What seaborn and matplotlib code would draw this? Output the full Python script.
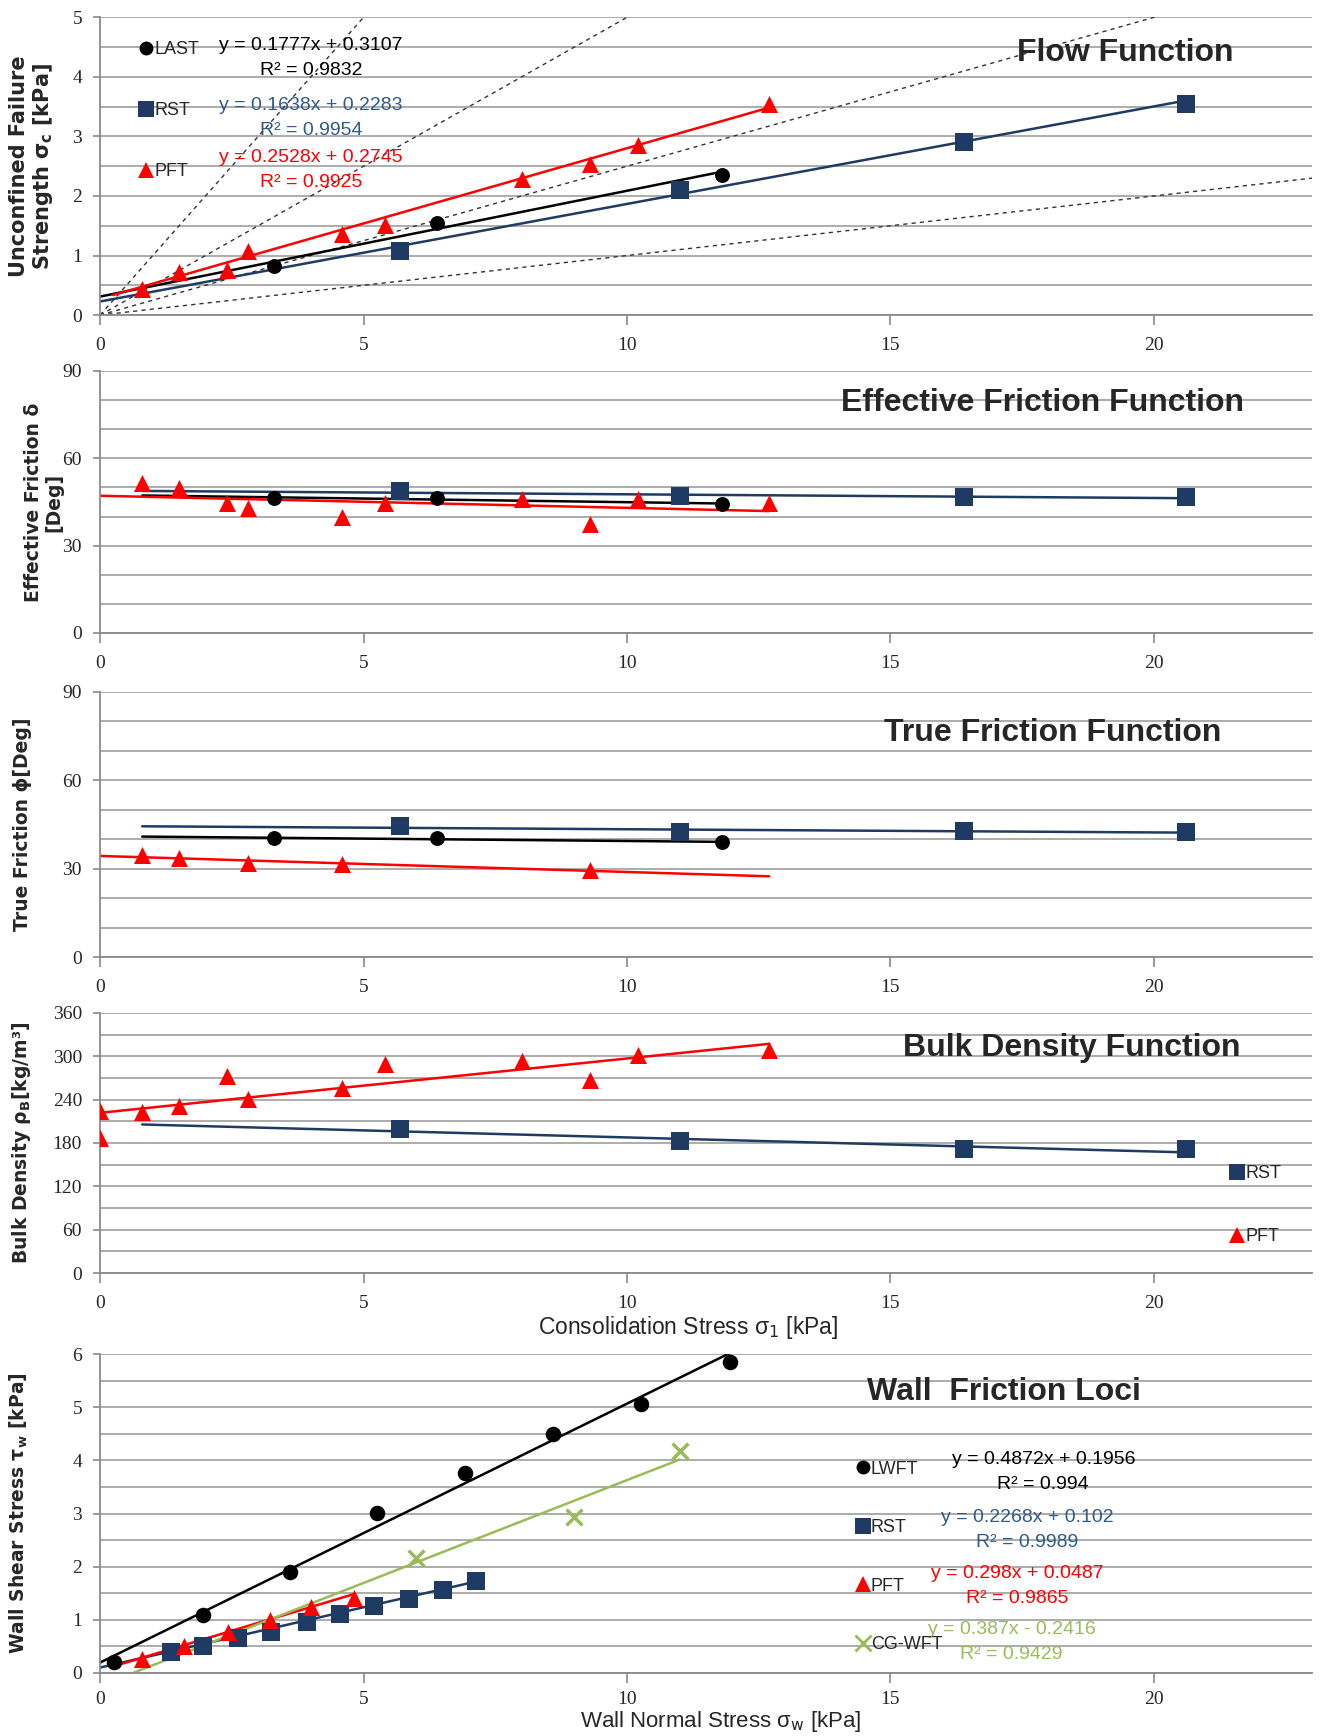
#!/usr/bin/env python3

import numpy as np
import matplotlib
matplotlib.use('Agg')
import matplotlib.pyplot as plt
from matplotlib.lines import Line2D
from matplotlib.ticker import MultipleLocator
import seaborn as sns

# consolidation stress sigma_1 [kPa] of each tester
last_x = [3.3, 6.4, 11.8]
rst_x = [5.7, 11.0, 16.4, 20.6]
pft_x = [0.8, 1.5, 2.4, 2.8, 4.6, 5.4, 8.0, 9.3, 10.2, 12.7]

# flow function, unconfined failure strength [kPa]
ff_last = [0.83, 1.55, 2.35]
ff_rst = [1.07, 2.10, 2.90, 3.55]
ff_pft = [0.43, 0.73, 0.75, 1.08, 1.37, 1.52, 2.28, 2.53, 2.86, 3.55]
ff_slope = [0.1777, 0.1638, 0.2528]
ff_icept = [0.3107, 0.2283, 0.2745]
ff_r2 = [0.9832, 0.9954, 0.9925]
ffc_values = [1, 2, 4, 10]

# effective friction [deg]
ef_last = [46.3, 46.3, 44.3]
ef_rst = [48.6, 46.9, 46.7, 46.6]
ef_pft = [51.5, 49.8, 44.6, 42.9, 40.0, 44.6, 46.0, 37.4, 46.0, 44.6]

# true friction [deg]
tf_last = [40.3, 40.3, 39.0]
tf_rst = [44.5, 42.3, 42.7, 42.6]
tf_pft_x = [0.8, 1.5, 2.8, 4.6, 9.3]
tf_pft = [34.5, 33.8, 31.9, 31.5, 29.6]

# bulk density [kg/m3]
bd_rst = [199, 183, 171, 171]
bd_pft_x = [0.0, 0.0, 0.8, 1.5, 2.4, 2.8, 4.6, 5.4, 8.0, 9.3, 10.2, 12.7]
bd_pft = [224, 187, 223, 231, 273, 241, 256, 289, 293, 267, 302, 309]

# trendline extent along sigma_1 (LAST, RST, PFT)
ff_span = [(0.0, 11.8), (0.0, 20.6), (0.25, 12.7)]
trend_span = [(0.8, 11.8), (0.8, 20.6), (0.0, 12.7)]

# wall friction loci
lw_x = [0.27, 1.95, 3.6, 5.26, 6.92, 8.6, 10.27, 11.95]
lw_y = [0.21, 1.10, 1.90, 3.01, 3.76, 4.50, 5.06, 5.86]
wrst_x = [1.35, 1.95, 2.62, 3.25, 3.92, 4.56, 5.2, 5.87, 6.5, 7.14]
wrst_y = [0.39, 0.50, 0.65, 0.78, 0.96, 1.11, 1.26, 1.40, 1.57, 1.73]
wpft_x = [0.8, 1.6, 2.43, 3.22, 4.01, 4.82]
wpft_y = [0.26, 0.50, 0.77, 1.00, 1.25, 1.41]
cg_x = [6.0, 9.0, 11.0]
cg_y = [2.16, 2.94, 4.17]
wf_names = ['LWFT', 'RST', 'PFT', 'CG-WFT']
wf_slope = [0.4872, 0.2268, 0.298, 0.387]
wf_icept = [0.1956, 0.102, 0.0487, -0.2416]
wf_r2 = [0.994, 0.9989, 0.9865, 0.9429]
wf_span = [(0.0, 11.95), (0.0, 7.14), (0.27, 4.82), (0.62, 11.0)]

BLACK = 'black'
NAVY = '#1F3B63'
RED = '#FF0000'
GREEN = '#9BBB59'
EQ_BLUE = '#2F5A8A'
EQ_GREEN = '#9BBB59'
NARROW = ['Liberation Sans', 'DejaVu Sans']
SERIF = 'Liberation Serif'

sns.set_theme(style='whitegrid')
plt.rcParams['font.family'] = ['DejaVu Sans']

fig = plt.figure(figsize=(13.27, 17.36), dpi=100)
left, width = 0.0754, 0.9133
axes = [fig.add_axes([left, 0.8185, width, 0.1715]),
        fig.add_axes([left, 0.6354, width, 0.1509]),
        fig.add_axes([left, 0.4487, width, 0.1527]),
        fig.add_axes([left, 0.2667, width, 0.1498]),
        fig.add_axes([left, 0.0363, width, 0.1837])]


def style_axis(ax, top, major, minor, ylabel, label_x, label_size=13.5, xpad=9):
    ax.set_facecolor('white')
    ax.set_xlim(0, 23)
    ax.set_ylim(0, top)
    ax.xaxis.set_major_locator(MultipleLocator(5))
    ax.yaxis.set_major_locator(MultipleLocator(major))
    ax.yaxis.set_minor_locator(MultipleLocator(minor))
    ax.grid(False, axis='x', which='both')
    ax.grid(True, axis='y', which='both', color='#a6a6a6', lw=1.3)
    for side in ['top', 'right']:
        ax.spines[side].set_visible(False)
    for side in ['left', 'bottom']:
        ax.spines[side].set_color('#8a8a8a')
        ax.spines[side].set_linewidth(1.3)
    ax.tick_params(axis='x', which='major', bottom=True, length=7, width=1.2,
                   color='#8a8a8a', pad=xpad, labelsize=14, labelfontfamily=SERIF)
    ax.tick_params(axis='y', which='major', left=True, length=5, width=1.2,
                   color='#8a8a8a', pad=8, labelsize=14, labelfontfamily=SERIF)
    ax.tick_params(axis='y', which='minor', left=False)
    ax.set_ylabel(ylabel, fontsize=label_size, fontweight='bold', linespacing=1.1)
    ax.yaxis.set_label_coords(label_x, 0.5)
    ax.set_xlabel('')


def trend(ax, xs, ys, span, color, coef=None):
    if coef is None:
        coef = np.polyfit(xs, ys, 1)
    xx = np.array(span)
    sns.lineplot(x=xx, y=coef[0] * xx + coef[1], ax=ax, color=color, lw=1.8)


def points(ax, xs, ys, marker, color, s):
    sns.scatterplot(x=xs, y=ys, ax=ax, marker=marker, color=color, s=s,
                    edgecolor=color, linewidth=0, zorder=5)


def marker_legend(ax, names, markers, colors, anchor, spacing):
    handles = [Line2D([], [], ls='none', marker=m, color=c,
                      markersize=10 if m == 'o' else 11,
                      markeredgewidth=2 if m == 'x' else 0)
               for m, c in zip(markers, colors)]
    leg = ax.legend(handles, names, loc='upper left', bbox_to_anchor=anchor,
                    frameon=False, handlelength=0.7, handletextpad=0.1,
                    labelspacing=spacing, borderpad=0, borderaxespad=0,
                    prop={'family': NARROW, 'size': 13})
    return leg


def title(ax, text, x, y):
    ax.text(x, y, text, transform=ax.transAxes, ha='center', va='center',
            fontsize=23, fontweight='bold', family=NARROW)


def equation(ax, x, y, dy, a, b, r2, color):
    sign = '+' if b >= 0 else '-'
    ax.text(x, y, f'y = {a:g}x {sign} {abs(b):g}', ha='center', va='center',
            color=color, fontsize=14, family=NARROW)
    ax.text(x, y - dy, f'R² = {r2:g}', ha='center', va='center', color=color,
            fontsize=14, family=NARROW)


# ---- Flow function
ax = axes[0]
style_axis(ax, 5, 1, 0.5, 'Unconfined Failure\nStrength σ$_\\mathbf{c}$ [kPa]',
           -0.037, 15)
xx = np.array([0, 23])
for ffc in ffc_values:
    sns.lineplot(x=xx, y=xx / ffc, ax=ax, color='#333333', lw=1.0,
                 linestyle=(0, (3, 3)))
for i, (xs, ys, mk, col, s) in enumerate([(last_x, ff_last, 'o', BLACK, 115),
                                          (rst_x, ff_rst, 's', NAVY, 150),
                                          (pft_x, ff_pft, '^', RED, 150)]):
    trend(ax, xs, ys, ff_span[i], col, (ff_slope[i], ff_icept[i]))
    points(ax, xs, ys, mk, col, s)
marker_legend(ax, ['LAST', 'RST', 'PFT'], ['o', 's', '^'], [BLACK, NAVY, RED],
              (0.033, 0.921), 2.45)
for i, (yy, col) in enumerate(zip([4.52, 3.52, 2.65], [BLACK, EQ_BLUE, RED])):
    equation(ax, 4.0, yy, 0.42, ff_slope[i], ff_icept[i], ff_r2[i], col)
title(ax, 'Flow Function', 0.846, 0.879)
ax.set_ylim(0, 5)

# ---- Effective friction
ax = axes[1]
style_axis(ax, 90, 30, 10, 'Effective Friction δ\n[Deg]', -0.030)
for i, (xs, ys, mk, col, s) in enumerate([(last_x, ef_last, 'o', BLACK, 115),
                                          (rst_x, ef_rst, 's', NAVY, 150),
                                          (pft_x, ef_pft, '^', RED, 150)]):
    trend(ax, xs, ys, trend_span[i], col)
    points(ax, xs, ys, mk, col, s)
title(ax, 'Effective Friction Function', 0.778, 0.878)
ax.set_ylim(0, 90)

# ---- True friction
ax = axes[2]
style_axis(ax, 90, 30, 10, 'True Friction ϕ[Deg]', -0.056)
for i, (xs, ys, mk, col, s) in enumerate([(last_x, tf_last, 'o', BLACK, 115),
                                          (rst_x, tf_rst, 's', NAVY, 150),
                                          (tf_pft_x, tf_pft, '^', RED, 150)]):
    trend(ax, xs, ys, trend_span[i], col)
    points(ax, xs, ys, mk, col, s)
title(ax, 'True Friction Function', 0.786, 0.845)
ax.set_ylim(0, 90)

# ---- Bulk density
ax = axes[3]
style_axis(ax, 360, 60, 30, 'Bulk Density ρ$_\\mathbf{B}$[kg/m³]', -0.055)
for i, (xs, ys, mk, col, s) in [(1, (rst_x, bd_rst, 's', NAVY, 150)),
                                (2, (bd_pft_x, bd_pft, '^', RED, 150))]:
    trend(ax, xs, ys, trend_span[i], col)
    points(ax, xs, ys, mk, col, s)
marker_legend(ax, ['RST', 'PFT'], ['s', '^'], [NAVY, RED], (0.933, 0.415), 2.55)
title(ax, 'Bulk Density Function', 0.802, 0.865)
ax.set_ylim(0, 360)
ax.set_xlabel('Consolidation Stress σ$_1$ [kPa]', fontsize=16.5, family=NARROW,
              labelpad=1)
ax.xaxis.label.set_x(0.485)

# ---- Wall friction loci
ax = axes[4]
style_axis(ax, 6, 1, 0.5, 'Wall Shear Stress τ$_\\mathbf{w}$ [kPa]', -0.058,
           xpad=6)
wf_sets = [(lw_x, lw_y, 'o', BLACK, 125), (wrst_x, wrst_y, 's', NAVY, 150),
           (wpft_x, wpft_y, '^', RED, 150), (cg_x, cg_y, 'x', GREEN, 130)]
for i, (xs, ys, mk, col, s) in enumerate(wf_sets):
    trend(ax, xs, ys, wf_span[i], col, (wf_slope[i], wf_icept[i]))
    if mk == 'x':
        sns.scatterplot(x=xs, y=ys, ax=ax, marker='x', color=col, s=s,
                        linewidth=2.5, zorder=5)
    else:
        points(ax, xs, ys, mk, col, s)
marker_legend(ax, wf_names, ['o', 's', '^', 'x'], [BLACK, NAVY, RED, GREEN],
              (0.624, 0.666), 2.3)
eq_cols = [BLACK, EQ_BLUE, RED, EQ_GREEN]
for i, (ex, ey) in enumerate(zip([17.9, 17.6, 17.4, 17.3], [4.01, 2.93, 1.87, 0.81])):
    equation(ax, ex, ey, 0.47, wf_slope[i], wf_icept[i], wf_r2[i], eq_cols[i])
title(ax, 'Wall  Friction Loci', 0.746, 0.881)
ax.set_ylim(0, 6)
ax.set_xlabel('Wall Normal Stress σ$_\\mathrm{w}$ [kPa]', fontsize=16,
              family=NARROW, labelpad=1)
ax.xaxis.label.set_x(0.512)

plt.savefig('out.png', dpi=100)
